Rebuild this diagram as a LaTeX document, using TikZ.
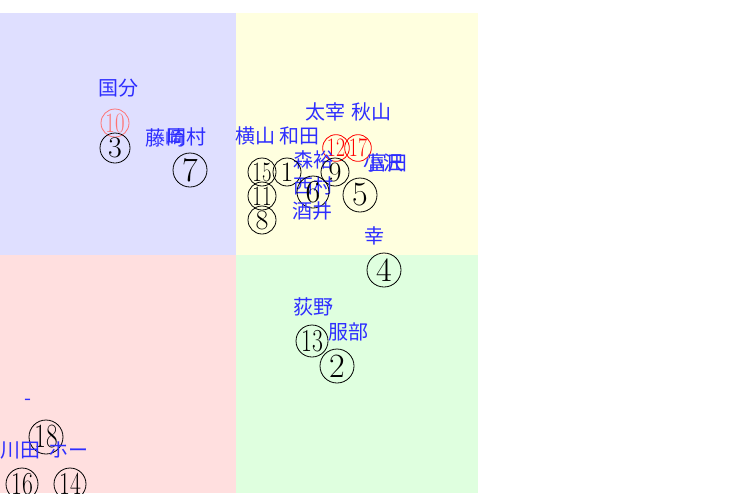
\documentclass[tikz,border=0pt]{standalone}
\usepackage{fontspec}
\usepackage{tikz}
\usetikzlibrary{positioning}
\newfontfamily\jpfont{Noto Sans CJK JP}

\definecolor{qblue}{HTML}{DFDFFF}
\definecolor{qyellow}{HTML}{FFFFDF}
\definecolor{qpink}{HTML}{FFDFDF}
\definecolor{qgreen}{HTML}{DFFFDF}
\definecolor{namecol}{HTML}{2E2EFF}

\tikzset{
  num/.style={circle, draw, line width=0.6pt, inner sep=0pt, minimum size=#1pt,
    font=\fontsize{#1}{#1}\selectfont},
  hot/.style={draw=red, text=red},
  pale/.style={draw=red!55, text=red!55},
  person/.style={text=namecol, inner sep=0pt, font=\jpfont\fontsize{15}{15}\selectfont},
}
\newcommand{\two}[1]{\scalebox{0.74}[1]{#1}}

\begin{document}
\begin{tikzpicture} [x=0.75pt, y=-0.75pt, on grid]
\useasboundingbox (0,0) rectangle (730,493);
\fill[qblue] (0,13) rectangle (236,255);
\fill[qyellow] (236,13) rectangle (478,255);
\fill[qpink] (0,255) rectangle (236,493);
\fill[qgreen] (236,255) rectangle (478,493);

% top left
\node[person] (kokubu) at (118,88) {国分};
\node[num=21, pale] (c_10) at (115,123) {\two{10}};
\node[num=22.5] (c_3) [below = 18.75pt of c_10] {3};
\node[person] (fujisaki) at (165,138) {藤崎};
\node[person] (okamura) at (186,137) {岡村};
\node[num=25.5] (c_7) at (190,170) {7};

% top right
\node[person] (dazai) at (325,112) {太宰};
\node[person] (akiyama) at (371,112) {秋山};
\node[person] (yokoyama) at (255,136) {横山};
\node[person] (wada) at (299,136) {和田};
\node[num=20, hot] (c_12) at (336,148) {\two{12}};
\node[num=20, hot] (c_17) [right = 16.5pt of c_12] {\two{17}};
\node[person] (mori) at (313,160) {森裕};
\node[person] (ozawa) at (383,163) {小沢};
\node[person] (tomita) at (387,163) {富田};
\node[num=21] (c_15) at (262,172) {\two{15}};
\node[num=21] (c_1) at (287,172) {1};
\node[num=21] (c_9) at (335,172) {9};
\node[person] (nishimura) at (313,186) {西村};
\node[num=24] (c_6) at (313,192) {6};
\node[num=25.5] (c_5) at (360,195) {5};
\node[num=21] (c_11) [below = 18pt of c_15] {\two{11}};
\node[num=21] (c_8) [below = 18pt of c_11] {8};
\node[person] (sakai) at (312,211) {酒井};
\node[person] (miyuki) at (374,236) {幸};
\node[num=25.5] (c_4) at (384,270) {4};

% bottom right
\node[person] (ogino) at (313,307) {荻野};
\node[person] (hattori) at (348,332) {服部};
\node[num=24] (c_13) at (312,341) {\two{13}};
\node[num=25.5] (c_2) at (337,366) {2};

% bottom left
\node[person] (dash) at (28,402) {-};
\node[num=25.5] (c_18) at (46,437) {\two{18}};
\node[person] (kawada) at (20,450) {川田};
\node[person] (ho) at (68,450) {ホー};
\node[num=24] (c_16) at (22,484) {\two{16}};
\node[num=24] (c_14) [right = 36pt of c_16] {\two{14}};

\end{tikzpicture}
\end{document}
